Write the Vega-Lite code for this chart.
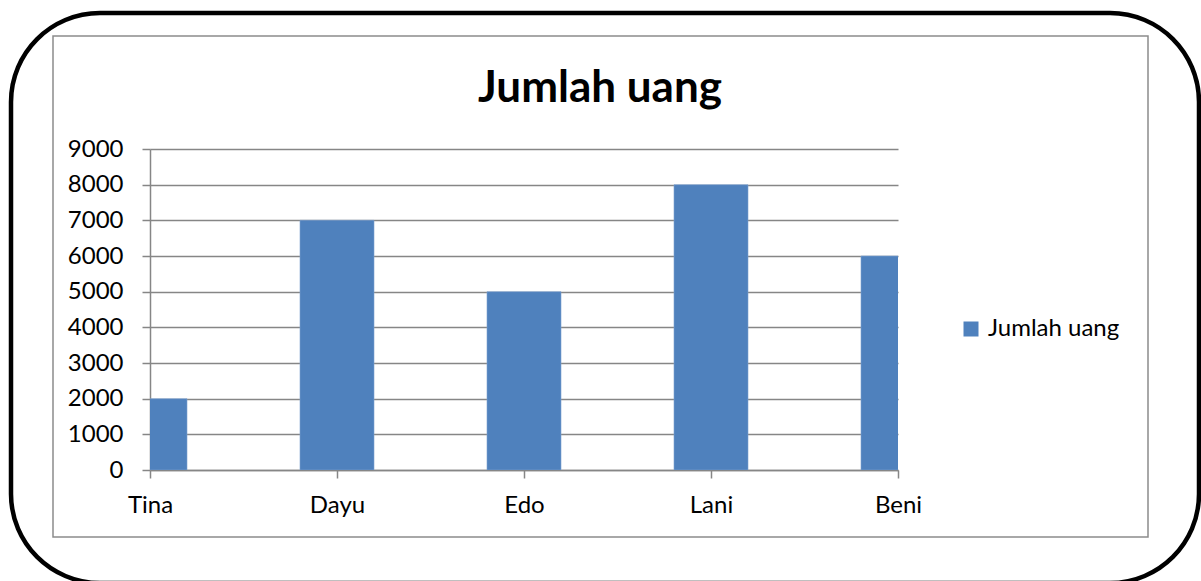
{
  "$schema": "https://vega.github.io/schema/vega-lite/v6.json",
  "autosize": {"type": "none"},
  "padding": {"left": 150, "top": 149, "right": 303, "bottom": 111},
  "width": 748,
  "height": 321,
  "background": "white",
  "config": {
    "view": {"stroke": null},
    "font": "Lato",
    "axis": {"labelFont": "Lato", "labelColor": "black", "labelFontSize": 24}
  },
  "title": {
    "text": "Jumlah uang",
    "font": "Lato",
    "fontSize": 44,
    "fontWeight": "bold",
    "color": "black",
    "anchor": "middle",
    "baseline": "alphabetic",
    "dx": 76,
    "offset": -135
  },
  "datasets": {
    "main": [
      {"nama": "Tina", "jumlah": 2000, "seri": "Jumlah uang"},
      {"nama": "Dayu", "jumlah": 7000, "seri": "Jumlah uang"},
      {"nama": "Edo", "jumlah": 5000, "seri": "Jumlah uang"},
      {"nama": "Lani", "jumlah": 8000, "seri": "Jumlah uang"},
      {"nama": "Beni", "jumlah": 6000, "seri": "Jumlah uang"}
    ],
    "frame": [{"k": 1}]
  },
  "layer": [
    {
      "data": {"name": "frame"},
      "mark": {"type": "rect", "fill": null, "stroke": "#000000", "strokeWidth": 4.5, "cornerRadius": 89, "clip": false},
      "encoding": {
        "x": {"value": -139},
        "x2": {"value": 1049},
        "y": {"value": -136},
        "y2": {"value": 434}
      }
    },
    {
      "data": {"name": "frame"},
      "mark": {"type": "rect", "fill": null, "stroke": "#8c8c8c", "strokeWidth": 1.5, "clip": false},
      "encoding": {
        "x": {"value": -97},
        "x2": {"value": 998},
        "y": {"value": -113},
        "y2": {"value": 388}
      }
    },
    {
      "data": {"name": "main"},
      "mark": {"type": "bar", "width": 74, "clip": true, "color": "#4f81bd", "stroke": "#7ea1d0", "strokeWidth": 0.6},
      "encoding": {
        "x": {
          "field": "nama",
          "type": "nominal",
          "sort": null,
          "scale": {"type": "point", "padding": 0},
          "axis": {
            "title": null,
            "labelAngle": 0,
            "domainColor": "#868686",
            "domainWidth": 1.5,
            "tickColor": "#868686",
            "tickWidth": 1.5,
            "tickSize": 8,
            "labelPadding": 15,
            "labelOverlap": false,
            "labelFlush": false,
            "labelBound": false,
            "grid": false
          }
        },
        "y": {
          "field": "jumlah",
          "type": "quantitative",
          "scale": {"domain": [0, 9000], "nice": false},
          "axis": {
            "title": null,
            "values": [0, 1000, 2000, 3000, 4000, 5000, 6000, 7000, 8000, 9000],
            "format": "d",
            "domainColor": "#868686",
            "domainWidth": 1.5,
            "tickColor": "#868686",
            "tickWidth": 1.5,
            "tickSize": 8,
            "labelPadding": 19,
            "gridColor": "#868686",
            "gridWidth": 1.5,
            "labelOverlap": false,
            "labelFlush": false,
            "labelBound": false
          }
        },
        "fill": {
          "field": "seri",
          "type": "nominal",
          "scale": {"range": ["#4f81bd"]},
          "legend": {
            "title": null,
            "orient": "none",
            "legendX": 809,
            "legendY": 168,
            "padding": 0,
            "symbolType": "square",
            "symbolSize": 225,
            "symbolStrokeWidth": 0,
            "labelFont": "Lato",
            "labelFontSize": 24,
            "labelColor": "black",
            "labelOffset": 5
          }
        }
      }
    }
  ]
}
